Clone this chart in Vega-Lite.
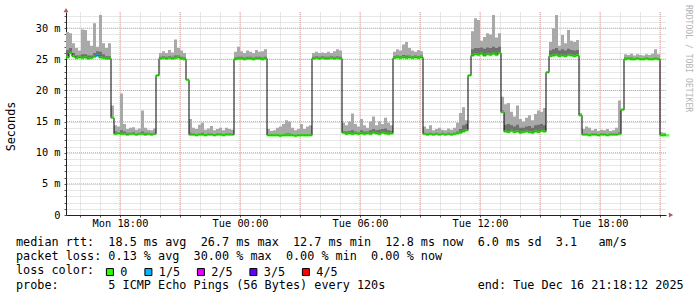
{
 "width": 600,
 "height": 203,
 "autosize": {"type": "none"},
 "padding": {"left": 66, "top": 12, "right": 31, "bottom": 82},
 "background": "#ffffff",
 "config": {"view": {"stroke": null}, "font": "DejaVu Sans Mono"},
 "title": {
  "text": [
   "median\u00a0rtt:\u00a0\u00a018.5\u00a0ms\u00a0avg\u00a0\u00a026.7\u00a0ms\u00a0max\u00a0\u00a012.7\u00a0ms\u00a0min\u00a0\u00a012.8\u00a0ms\u00a0now\u00a0\u00a06.0\u00a0ms\u00a0sd\u00a0\u00a03.1\u00a0\u00a0\u00a0am/s",
   "packet\u00a0loss:\u00a00.13\u00a0%\u00a0avg\u00a0\u00a030.00\u00a0%\u00a0max\u00a0\u00a00.00\u00a0%\u00a0min\u00a0\u00a00.00\u00a0%\u00a0now",
   "loss\u00a0color:",
   "probe:\u00a0\u00a0\u00a0\u00a0\u00a0\u00a0\u00a05\u00a0ICMP\u00a0Echo\u00a0Pings\u00a0(56\u00a0Bytes)\u00a0every\u00a0120s\u00a0\u00a0\u00a0\u00a0\u00a0\u00a0\u00a0\u00a0\u00a0\u00a0\u00a0\u00a0\u00a0end:\u00a0Tue\u00a0Dec\u00a016\u00a021:18:12\u00a02025"
  ],
  "orient": "bottom",
  "anchor": "start",
  "frame": "group",
  "dx": -50,
  "offset": -42,
  "baseline": "top",
  "font": "DejaVu Sans Mono",
  "fontSize": 11.8,
  "fontWeight": "normal",
  "color": "#000000",
  "lineHeight": 14.2
 },
 "datasets": {
  "yg": [{"g": 5}, {"g": 10}, {"g": 15}, {"g": 20}, {"g": 25}, {"g": 30}],
  "xg": [{"t": "2025-12-15T18:00"}, {"t": "2025-12-15T21:00"}, {"t": "2025-12-16T00:00"}, {"t": "2025-12-16T03:00"}, {"t": "2025-12-16T06:00"}, {"t": "2025-12-16T09:00"}, {"t": "2025-12-16T12:00"}, {"t": "2025-12-16T15:00"}, {"t": "2025-12-16T18:00"}, {"t": "2025-12-16T21:00"}],
  "rtt": [
   {"t":"2025-12-15T15:18","m":25.3,"hi":29.4,"d":26.5,"l":"0"},
   {"t":"2025-12-15T15:27","m":26.0,"hi":29.2,"d":26.8,"l":"0"},
   {"t":"2025-12-15T15:36","m":25.5,"hi":27.6,"d":26.0,"l":"0"},
   {"t":"2025-12-15T15:45","m":25.2,"hi":26.8,"d":25.6,"l":"0"},
   {"t":"2025-12-15T15:54","m":25.3,"hi":26.4,"d":25.6,"l":"0"},
   {"t":"2025-12-15T16:03","m":25.2,"hi":29.8,"d":25.8,"l":"0"},
   {"t":"2025-12-15T16:12","m":25.3,"hi":29.7,"d":25.8,"l":"0"},
   {"t":"2025-12-15T16:21","m":25.1,"hi":28.0,"d":25.6,"l":"0"},
   {"t":"2025-12-15T16:30","m":25.2,"hi":27.2,"d":25.6,"l":"0"},
   {"t":"2025-12-15T16:39","m":25.4,"hi":30.8,"d":26.0,"l":"0"},
   {"t":"2025-12-15T16:48","m":25.6,"hi":27.0,"d":26.3,"l":"1/5"},
   {"t":"2025-12-15T16:57","m":25.3,"hi":32.1,"d":26.2,"l":"0"},
   {"t":"2025-12-15T17:06","m":25.2,"hi":27.6,"d":25.8,"l":"0"},
   {"t":"2025-12-15T17:15","m":25.1,"hi":26.8,"d":25.5,"l":"0"},
   {"t":"2025-12-15T17:24","m":25.1,"hi":27.6,"d":25.5,"l":"0"},
   {"t":"2025-12-15T17:33","m":15.6,"hi":17.6,"d":15.6,"l":"0"},
   {"t":"2025-12-15T17:42","m":13.0,"hi":14.4,"d":13.4,"l":"0"},
   {"t":"2025-12-15T17:51","m":13.1,"hi":14.2,"d":13.3,"l":"0"},
   {"t":"2025-12-15T18:00","m":13.0,"hi":19.5,"d":13.6,"l":"0"},
   {"t":"2025-12-15T18:09","m":13.0,"hi":14.6,"d":13.4,"l":"0"},
   {"t":"2025-12-15T18:18","m":12.9,"hi":13.8,"d":13.2,"l":"0"},
   {"t":"2025-12-15T18:27","m":13.0,"hi":14.0,"d":13.2,"l":"0"},
   {"t":"2025-12-15T18:36","m":13.0,"hi":14.1,"d":13.3,"l":"0"},
   {"t":"2025-12-15T18:45","m":12.9,"hi":13.7,"d":13.1,"l":"0"},
   {"t":"2025-12-15T18:54","m":13.0,"hi":13.9,"d":13.2,"l":"0"},
   {"t":"2025-12-15T19:03","m":13.0,"hi":16.8,"d":13.4,"l":"0"},
   {"t":"2025-12-15T19:12","m":12.9,"hi":14.0,"d":13.2,"l":"0"},
   {"t":"2025-12-15T19:21","m":13.0,"hi":13.7,"d":13.2,"l":"0"},
   {"t":"2025-12-15T19:30","m":12.9,"hi":13.6,"d":13.1,"l":"0"},
   {"t":"2025-12-15T19:39","m":13.0,"hi":13.9,"d":13.2,"l":"0"},
   {"t":"2025-12-15T19:48","m":22.4,"hi":22.6,"d":22.4,"l":"0"},
   {"t":"2025-12-15T19:57","m":25.1,"hi":26.0,"d":25.4,"l":"0"},
   {"t":"2025-12-15T20:06","m":25.2,"hi":26.3,"d":25.5,"l":"0"},
   {"t":"2025-12-15T20:15","m":25.1,"hi":26.0,"d":25.4,"l":"0"},
   {"t":"2025-12-15T20:24","m":25.2,"hi":26.5,"d":25.5,"l":"0"},
   {"t":"2025-12-15T20:33","m":25.1,"hi":26.1,"d":25.4,"l":"0"},
   {"t":"2025-12-15T20:42","m":25.2,"hi":28.2,"d":25.6,"l":"0"},
   {"t":"2025-12-15T20:51","m":25.3,"hi":26.8,"d":25.6,"l":"0"},
   {"t":"2025-12-15T21:00","m":25.1,"hi":26.4,"d":25.4,"l":"0"},
   {"t":"2025-12-15T21:09","m":25.0,"hi":26.0,"d":25.3,"l":"0"},
   {"t":"2025-12-15T21:18","m":21.7,"hi":21.9,"d":21.7,"l":"0"},
   {"t":"2025-12-15T21:27","m":12.9,"hi":15.4,"d":13.2,"l":"0"},
   {"t":"2025-12-15T21:36","m":12.9,"hi":14.0,"d":13.1,"l":"0"},
   {"t":"2025-12-15T21:45","m":12.8,"hi":13.8,"d":13.0,"l":"0"},
   {"t":"2025-12-15T21:54","m":12.9,"hi":14.5,"d":13.1,"l":"0"},
   {"t":"2025-12-15T22:03","m":12.9,"hi":14.8,"d":13.2,"l":"0"},
   {"t":"2025-12-15T22:12","m":12.8,"hi":13.7,"d":13.0,"l":"0"},
   {"t":"2025-12-15T22:21","m":12.9,"hi":13.9,"d":13.1,"l":"0"},
   {"t":"2025-12-15T22:30","m":12.9,"hi":14.3,"d":13.1,"l":"0"},
   {"t":"2025-12-15T22:39","m":12.8,"hi":13.6,"d":13.0,"l":"0"},
   {"t":"2025-12-15T22:48","m":12.9,"hi":13.8,"d":13.1,"l":"0"},
   {"t":"2025-12-15T22:57","m":12.9,"hi":14.0,"d":13.1,"l":"0"},
   {"t":"2025-12-15T23:06","m":12.8,"hi":13.6,"d":13.0,"l":"0"},
   {"t":"2025-12-15T23:15","m":12.9,"hi":14.0,"d":13.1,"l":"0"},
   {"t":"2025-12-15T23:24","m":12.9,"hi":13.8,"d":13.1,"l":"0"},
   {"t":"2025-12-15T23:33","m":12.9,"hi":13.7,"d":13.1,"l":"0"},
   {"t":"2025-12-15T23:42","m":25.0,"hi":26.2,"d":25.3,"l":"0"},
   {"t":"2025-12-15T23:51","m":25.1,"hi":27.0,"d":25.4,"l":"0"},
   {"t":"2025-12-16T00:00","m":25.1,"hi":26.3,"d":25.4,"l":"0"},
   {"t":"2025-12-16T00:09","m":25.0,"hi":26.0,"d":25.3,"l":"0"},
   {"t":"2025-12-16T00:18","m":25.1,"hi":26.4,"d":25.4,"l":"0"},
   {"t":"2025-12-16T00:27","m":25.1,"hi":26.2,"d":25.4,"l":"0"},
   {"t":"2025-12-16T00:36","m":25.0,"hi":26.0,"d":25.3,"l":"0"},
   {"t":"2025-12-16T00:45","m":25.1,"hi":26.5,"d":25.4,"l":"0"},
   {"t":"2025-12-16T00:54","m":25.1,"hi":26.2,"d":25.4,"l":"0"},
   {"t":"2025-12-16T01:03","m":25.0,"hi":26.3,"d":25.3,"l":"0"},
   {"t":"2025-12-16T01:12","m":25.1,"hi":26.6,"d":25.4,"l":"0"},
   {"t":"2025-12-16T01:21","m":12.8,"hi":13.8,"d":13.0,"l":"0"},
   {"t":"2025-12-16T01:30","m":12.8,"hi":13.5,"d":13.0,"l":"0"},
   {"t":"2025-12-16T01:39","m":12.8,"hi":13.6,"d":13.0,"l":"0"},
   {"t":"2025-12-16T01:48","m":12.8,"hi":14.0,"d":13.0,"l":"0"},
   {"t":"2025-12-16T01:57","m":12.7,"hi":14.2,"d":12.9,"l":"0"},
   {"t":"2025-12-16T02:06","m":12.8,"hi":14.6,"d":13.0,"l":"0"},
   {"t":"2025-12-16T02:15","m":12.8,"hi":15.2,"d":13.1,"l":"0"},
   {"t":"2025-12-16T02:24","m":12.8,"hi":15.0,"d":13.1,"l":"0"},
   {"t":"2025-12-16T02:33","m":12.8,"hi":14.0,"d":13.0,"l":"0"},
   {"t":"2025-12-16T02:42","m":12.7,"hi":13.6,"d":12.9,"l":"0"},
   {"t":"2025-12-16T02:51","m":12.8,"hi":13.8,"d":13.0,"l":"0"},
   {"t":"2025-12-16T03:00","m":12.8,"hi":14.6,"d":13.0,"l":"0"},
   {"t":"2025-12-16T03:09","m":12.8,"hi":13.8,"d":13.0,"l":"0"},
   {"t":"2025-12-16T03:18","m":12.8,"hi":14.2,"d":13.0,"l":"0"},
   {"t":"2025-12-16T03:27","m":12.8,"hi":14.4,"d":13.0,"l":"0"},
   {"t":"2025-12-16T03:36","m":25.1,"hi":26.0,"d":25.4,"l":"0"},
   {"t":"2025-12-16T03:45","m":25.2,"hi":26.2,"d":25.5,"l":"0"},
   {"t":"2025-12-16T03:54","m":25.1,"hi":26.0,"d":25.4,"l":"0"},
   {"t":"2025-12-16T04:03","m":25.2,"hi":26.1,"d":25.5,"l":"0"},
   {"t":"2025-12-16T04:12","m":25.1,"hi":26.0,"d":25.4,"l":"0"},
   {"t":"2025-12-16T04:21","m":25.1,"hi":26.2,"d":25.4,"l":"0"},
   {"t":"2025-12-16T04:30","m":25.2,"hi":26.0,"d":25.5,"l":"0"},
   {"t":"2025-12-16T04:39","m":25.1,"hi":26.3,"d":25.4,"l":"0"},
   {"t":"2025-12-16T04:48","m":25.2,"hi":26.6,"d":25.5,"l":"0"},
   {"t":"2025-12-16T04:57","m":25.1,"hi":26.4,"d":25.4,"l":"0"},
   {"t":"2025-12-16T05:06","m":13.2,"hi":14.8,"d":13.5,"l":"0"},
   {"t":"2025-12-16T05:15","m":13.0,"hi":14.4,"d":13.4,"l":"0"},
   {"t":"2025-12-16T05:24","m":13.1,"hi":15.0,"d":13.5,"l":"0"},
   {"t":"2025-12-16T05:33","m":13.0,"hi":16.3,"d":13.6,"l":"0"},
   {"t":"2025-12-16T05:42","m":13.1,"hi":14.6,"d":13.4,"l":"0"},
   {"t":"2025-12-16T05:51","m":13.0,"hi":14.2,"d":13.3,"l":"0"},
   {"t":"2025-12-16T06:00","m":13.1,"hi":15.4,"d":13.6,"l":"0"},
   {"t":"2025-12-16T06:09","m":13.0,"hi":14.4,"d":13.4,"l":"0"},
   {"t":"2025-12-16T06:18","m":13.1,"hi":14.0,"d":13.4,"l":"0"},
   {"t":"2025-12-16T06:27","m":13.0,"hi":15.0,"d":13.6,"l":"0"},
   {"t":"2025-12-16T06:36","m":13.2,"hi":15.8,"d":13.8,"l":"0"},
   {"t":"2025-12-16T06:45","m":13.1,"hi":14.4,"d":13.6,"l":"0"},
   {"t":"2025-12-16T06:54","m":13.0,"hi":15.0,"d":13.7,"l":"0"},
   {"t":"2025-12-16T07:03","m":13.2,"hi":14.6,"d":13.8,"l":"0"},
   {"t":"2025-12-16T07:12","m":13.1,"hi":15.6,"d":13.9,"l":"0"},
   {"t":"2025-12-16T07:21","m":13.0,"hi":14.8,"d":13.6,"l":"0"},
   {"t":"2025-12-16T07:30","m":13.1,"hi":14.4,"d":13.5,"l":"0"},
   {"t":"2025-12-16T07:39","m":25.2,"hi":26.2,"d":25.5,"l":"0"},
   {"t":"2025-12-16T07:48","m":25.3,"hi":26.6,"d":25.6,"l":"0"},
   {"t":"2025-12-16T07:57","m":25.2,"hi":26.4,"d":25.5,"l":"0"},
   {"t":"2025-12-16T08:06","m":25.3,"hi":27.4,"d":25.7,"l":"0"},
   {"t":"2025-12-16T08:15","m":25.2,"hi":27.8,"d":25.6,"l":"0"},
   {"t":"2025-12-16T08:24","m":25.3,"hi":26.8,"d":25.6,"l":"0"},
   {"t":"2025-12-16T08:33","m":25.2,"hi":26.4,"d":25.5,"l":"0"},
   {"t":"2025-12-16T08:42","m":25.3,"hi":26.2,"d":25.6,"l":"0"},
   {"t":"2025-12-16T08:51","m":25.2,"hi":26.5,"d":25.5,"l":"0"},
   {"t":"2025-12-16T09:00","m":25.3,"hi":26.3,"d":25.6,"l":"0"},
   {"t":"2025-12-16T09:09","m":13.0,"hi":14.2,"d":13.2,"l":"0"},
   {"t":"2025-12-16T09:18","m":12.9,"hi":13.8,"d":13.1,"l":"0"},
   {"t":"2025-12-16T09:27","m":13.0,"hi":14.4,"d":13.2,"l":"0"},
   {"t":"2025-12-16T09:36","m":12.9,"hi":13.6,"d":13.1,"l":"0"},
   {"t":"2025-12-16T09:45","m":13.0,"hi":13.8,"d":13.2,"l":"0"},
   {"t":"2025-12-16T09:54","m":12.9,"hi":14.0,"d":13.1,"l":"0"},
   {"t":"2025-12-16T10:03","m":13.0,"hi":13.7,"d":13.2,"l":"0"},
   {"t":"2025-12-16T10:12","m":12.9,"hi":13.6,"d":13.1,"l":"0"},
   {"t":"2025-12-16T10:21","m":13.0,"hi":13.9,"d":13.2,"l":"0"},
   {"t":"2025-12-16T10:30","m":12.9,"hi":13.7,"d":13.1,"l":"0"},
   {"t":"2025-12-16T10:39","m":13.0,"hi":14.0,"d":13.2,"l":"0"},
   {"t":"2025-12-16T10:48","m":13.1,"hi":14.8,"d":13.4,"l":"0"},
   {"t":"2025-12-16T10:57","m":13.2,"hi":16.4,"d":13.8,"l":"0"},
   {"t":"2025-12-16T11:06","m":13.4,"hi":17.3,"d":14.4,"l":"0"},
   {"t":"2025-12-16T11:15","m":13.6,"hi":15.2,"d":14.6,"l":"0"},
   {"t":"2025-12-16T11:24","m":22.4,"hi":22.6,"d":22.4,"l":"0"},
   {"t":"2025-12-16T11:33","m":25.6,"hi":29.5,"d":26.6,"l":"0"},
   {"t":"2025-12-16T11:42","m":25.8,"hi":31.6,"d":26.8,"l":"0"},
   {"t":"2025-12-16T11:51","m":25.7,"hi":31.3,"d":26.8,"l":"0"},
   {"t":"2025-12-16T12:00","m":25.9,"hi":28.0,"d":26.9,"l":"0"},
   {"t":"2025-12-16T12:09","m":25.6,"hi":28.6,"d":26.7,"l":"0"},
   {"t":"2025-12-16T12:18","m":25.8,"hi":29.2,"d":26.9,"l":"0"},
   {"t":"2025-12-16T12:27","m":25.7,"hi":29.0,"d":26.8,"l":"0"},
   {"t":"2025-12-16T12:36","m":25.9,"hi":32.1,"d":27.0,"l":"0"},
   {"t":"2025-12-16T12:45","m":25.7,"hi":28.5,"d":26.8,"l":"0"},
   {"t":"2025-12-16T12:54","m":26.0,"hi":29.2,"d":27.0,"l":"0"},
   {"t":"2025-12-16T13:03","m":16.5,"hi":19.0,"d":16.8,"l":"0"},
   {"t":"2025-12-16T13:12","m":13.4,"hi":17.8,"d":14.5,"l":"0"},
   {"t":"2025-12-16T13:21","m":13.3,"hi":18.0,"d":14.6,"l":"0"},
   {"t":"2025-12-16T13:30","m":13.5,"hi":16.6,"d":14.4,"l":"0"},
   {"t":"2025-12-16T13:39","m":13.3,"hi":15.8,"d":14.2,"l":"0"},
   {"t":"2025-12-16T13:48","m":13.4,"hi":17.6,"d":14.5,"l":"0"},
   {"t":"2025-12-16T13:57","m":13.2,"hi":15.4,"d":14.0,"l":"0"},
   {"t":"2025-12-16T14:06","m":13.3,"hi":15.0,"d":14.0,"l":"0"},
   {"t":"2025-12-16T14:15","m":13.4,"hi":15.6,"d":14.2,"l":"0"},
   {"t":"2025-12-16T14:24","m":13.3,"hi":16.0,"d":14.3,"l":"0"},
   {"t":"2025-12-16T14:33","m":13.2,"hi":15.2,"d":14.0,"l":"0"},
   {"t":"2025-12-16T14:42","m":13.4,"hi":16.2,"d":14.4,"l":"0"},
   {"t":"2025-12-16T14:51","m":13.3,"hi":16.8,"d":14.5,"l":"0"},
   {"t":"2025-12-16T15:00","m":13.5,"hi":16.6,"d":14.6,"l":"0"},
   {"t":"2025-12-16T15:09","m":13.4,"hi":17.2,"d":14.4,"l":"0"},
   {"t":"2025-12-16T15:18","m":22.9,"hi":23.1,"d":22.9,"l":"0"},
   {"t":"2025-12-16T15:27","m":25.5,"hi":27.8,"d":26.4,"l":"0"},
   {"t":"2025-12-16T15:36","m":25.6,"hi":30.0,"d":26.6,"l":"0"},
   {"t":"2025-12-16T15:45","m":25.7,"hi":32.1,"d":26.8,"l":"0"},
   {"t":"2025-12-16T15:54","m":25.5,"hi":27.2,"d":26.4,"l":"0"},
   {"t":"2025-12-16T16:03","m":25.6,"hi":28.9,"d":26.6,"l":"0"},
   {"t":"2025-12-16T16:12","m":25.5,"hi":27.6,"d":26.4,"l":"0"},
   {"t":"2025-12-16T16:21","m":25.7,"hi":29.7,"d":26.7,"l":"0"},
   {"t":"2025-12-16T16:30","m":25.6,"hi":28.0,"d":26.5,"l":"0"},
   {"t":"2025-12-16T16:39","m":25.5,"hi":27.8,"d":26.4,"l":"0"},
   {"t":"2025-12-16T16:48","m":25.6,"hi":28.1,"d":26.5,"l":"0"},
   {"t":"2025-12-16T16:57","m":16.0,"hi":16.4,"d":16.0,"l":"0"},
   {"t":"2025-12-16T17:06","m":12.9,"hi":13.8,"d":13.1,"l":"0"},
   {"t":"2025-12-16T17:15","m":12.9,"hi":14.2,"d":13.1,"l":"0"},
   {"t":"2025-12-16T17:24","m":12.8,"hi":14.0,"d":13.0,"l":"0"},
   {"t":"2025-12-16T17:33","m":12.9,"hi":13.6,"d":13.1,"l":"0"},
   {"t":"2025-12-16T17:42","m":12.9,"hi":13.8,"d":13.1,"l":"0"},
   {"t":"2025-12-16T17:51","m":12.8,"hi":13.5,"d":13.0,"l":"0"},
   {"t":"2025-12-16T18:00","m":12.9,"hi":13.7,"d":13.1,"l":"0"},
   {"t":"2025-12-16T18:09","m":12.9,"hi":13.6,"d":13.1,"l":"0"},
   {"t":"2025-12-16T18:18","m":12.8,"hi":13.8,"d":13.0,"l":"0"},
   {"t":"2025-12-16T18:27","m":12.9,"hi":13.5,"d":13.1,"l":"0"},
   {"t":"2025-12-16T18:36","m":12.9,"hi":13.6,"d":13.1,"l":"0"},
   {"t":"2025-12-16T18:45","m":12.9,"hi":14.0,"d":13.1,"l":"0"},
   {"t":"2025-12-16T18:54","m":13.0,"hi":18.4,"d":13.3,"l":"0"},
   {"t":"2025-12-16T19:03","m":16.9,"hi":17.1,"d":16.9,"l":"0"},
   {"t":"2025-12-16T19:12","m":25.0,"hi":25.8,"d":25.3,"l":"0"},
   {"t":"2025-12-16T19:21","m":25.1,"hi":25.7,"d":25.3,"l":"0"},
   {"t":"2025-12-16T19:30","m":25.0,"hi":25.9,"d":25.3,"l":"0"},
   {"t":"2025-12-16T19:39","m":25.0,"hi":25.6,"d":25.2,"l":"0"},
   {"t":"2025-12-16T19:48","m":25.1,"hi":25.8,"d":25.3,"l":"0"},
   {"t":"2025-12-16T19:57","m":25.0,"hi":25.7,"d":25.2,"l":"0"},
   {"t":"2025-12-16T20:06","m":25.0,"hi":25.6,"d":25.2,"l":"0"},
   {"t":"2025-12-16T20:15","m":25.1,"hi":25.8,"d":25.3,"l":"0"},
   {"t":"2025-12-16T20:24","m":25.0,"hi":25.7,"d":25.2,"l":"0"},
   {"t":"2025-12-16T20:33","m":25.0,"hi":25.9,"d":25.2,"l":"0"},
   {"t":"2025-12-16T20:42","m":25.1,"hi":26.6,"d":25.3,"l":"0"},
   {"t":"2025-12-16T20:51","m":25.0,"hi":25.8,"d":25.2,"l":"0"},
   {"t":"2025-12-16T21:00","m":12.8,"hi":13.3,"d":13.0,"l":"0"},
   {"t":"2025-12-16T21:09","m":12.8,"hi":13.2,"d":13.0,"l":"0"},
   {"t":"2025-12-16T21:18","m":12.8,"hi":13.2,"d":13.0,"l":"0"}
  ]
 },
 "layer": [
  {
   "data": {"name": "yg"},
   "mark": {"type": "rule", "color": "#e6a0a0", "strokeDash": [1, 1], "strokeWidth": 1},
   "encoding": {
    "y": {
     "field": "g", "type": "quantitative",
     "scale": {"domain": [0, 32.6], "nice": false},
     "axis": {
      "title": "Seconds",
      "tickCount": 33,
      "grid": true,
      "gridColor": "#cfcfcf",
      "gridDash": [1, 1],
      "domainColor": "#222222",
      "tickColor": "#555555",
      "tickSize": 2,
      "labelExpr": "datum.value % 5 == 0 ? (datum.value == 0 ? '0  ' : datum.value + ' m') : ''",
      "labelFont": "DejaVu Sans Mono",
      "labelFontSize": 10.3,
      "labelColor": "#000000",
      "labelPadding": 4,
      "labelOverlap": false,
      "titleFont": "DejaVu Sans Mono",
      "titleFontSize": 11.8,
      "titleFontWeight": "normal",
      "titleColor": "#000000",
      "titleX": -56,
      "titleY": 114,
      "titleAlign": "center",
      "titleBaseline": "middle"
     }
    }
   }
  },
  {
   "data": {"name": "xg"},
   "mark": {"type": "rule", "color": "#e6a0a0", "strokeDash": [1, 1], "strokeWidth": 1},
   "encoding": {
    "x": {
     "field": "t", "type": "temporal",
     "axis": {
      "title": null,
      "tickCount": 30,
      "grid": true,
      "gridColor": "#cfcfcf",
      "gridDash": [1, 1],
      "domainColor": "#222222",
      "tickColor": "#555555",
      "tickSize": 2,
      "labelExpr": "hours(datum.value) % 6 == 0 ? timeFormat(datum.value, '%a %H:%M') : ''",
      "labelFont": "DejaVu Sans Mono",
      "labelFontSize": 10.3,
      "labelColor": "#000000",
      "labelPadding": 1.7,
      "labelOverlap": false,
      "labelFlush": false
     }
    }
   }
  },
  {
   "data": {"name": "rtt"},
   "mark": {"type": "area", "interpolate": "step-after", "color": "#a9a9a9"},
   "encoding": {
    "x": {"field": "t", "type": "temporal"},
    "y": {"field": "m", "type": "quantitative"},
    "y2": {"field": "hi"}
   }
  },
  {
   "data": {"name": "rtt"},
   "mark": {"type": "area", "interpolate": "step-after", "color": "#707070"},
   "encoding": {
    "x": {"field": "t", "type": "temporal"},
    "y": {"field": "m", "type": "quantitative"},
    "y2": {"field": "d"}
   }
  },
  {
   "data": {"name": "rtt"},
   "mark": {"type": "line", "interpolate": "step-after", "color": "#000000", "strokeWidth": 1},
   "encoding": {
    "x": {"field": "t", "type": "temporal"},
    "y": {"field": "m", "type": "quantitative"}
   }
  },
  {
   "data": {"name": "rtt"},
   "mark": {"type": "tick", "orient": "horizontal", "size": 3.6, "thickness": 2.5, "xOffset": 1.5},
   "encoding": {
    "x": {"field": "t", "type": "temporal"},
    "y": {"field": "m", "type": "quantitative"},
    "color": {
     "field": "l", "type": "nominal",
     "scale": {"domain": ["0", "1/5", "2/5", "3/5", "4/5"], "range": ["#26ff00", "#00b8ff", "#e000ff", "#5e00ff", "#ff0000"]},
     "legend": {
      "title": null,
      "orient": "none",
      "legendX": 38,
      "legendY": 254,
      "direction": "horizontal",
      "symbolType": "square",
      "symbolSize": 49,
      "symbolStrokeColor": "#000000",
      "symbolStrokeWidth": 1,
      "symbolOpacity": 1,
      "labelFont": "DejaVu Sans Mono",
      "labelFontSize": 11.8,
      "labelColor": "#000000",
      "labelOffset": 4.5,
      "columnPadding": 14.5,
      "padding": 0
     }
    }
   }
  },
  {
   "data": {"values": [{"t": "2025-12-16T21:18", "v": 0}]},
   "mark": {"type": "point", "shape": "triangle-right", "filled": true, "size": 24, "color": "#8c1c1c", "xOffset": 5},
   "encoding": {
    "x": {"field": "t", "type": "temporal"},
    "y": {"field": "v", "type": "quantitative"}
   }
  },
  {
   "data": {"values": [{"t": "2025-12-15T15:18", "v": 32.9}]},
   "mark": {"type": "point", "shape": "triangle-up", "filled": true, "size": 24, "color": "#8c1c1c"},
   "encoding": {
    "x": {"field": "t", "type": "temporal"},
    "y": {"field": "v", "type": "quantitative"}
   }
  },
  {
   "data": {"values": [{"t": "2025-12-16T21:18", "v": 32.6, "s": "RRDTOOL / TOBI OETIKER"}]},
   "mark": {"type": "text", "angle": 90, "align": "left", "baseline": "middle", "xOffset": 22, "yOffset": -7, "font": "DejaVu Sans Mono", "fontSize": 8.1, "color": "#b4b4b4"},
   "encoding": {
    "x": {"field": "t", "type": "temporal"},
    "y": {"field": "v", "type": "quantitative"},
    "text": {"field": "s"}
   }
  }
 ]
}
